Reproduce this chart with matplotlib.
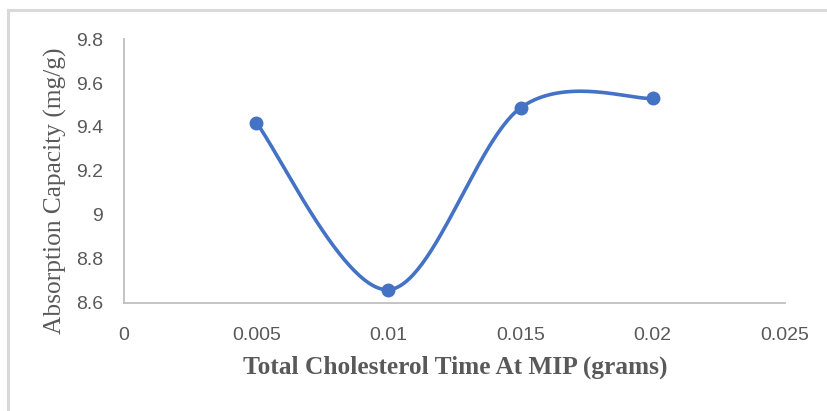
import numpy as np
import matplotlib
matplotlib.use('Agg')
import matplotlib.pyplot as plt
from matplotlib.lines import Line2D

# data
mip_grams = [0.005, 0.01, 0.015, 0.02]
capacity = [9.42, 8.66, 9.487, 9.53]
x_ticks = [0, 0.005, 0.01, 0.015, 0.02, 0.025]
x_tick_labels = ['0', '0.005', '0.01', '0.015', '0.02', '0.025']
y_ticks = [8.6, 8.8, 9.0, 9.2, 9.4, 9.6, 9.8]
y_tick_labels = ['8.6', '8.8', '9', '9.2', '9.4', '9.6', '9.8']

blue = '#4472C4'
grey_txt = '#595959'


def smooth_line(xs, ys, n=60):
    # excel style smoothed line: bezier segments with catmull-rom handles
    p = np.column_stack([xs, ys]).astype(float)
    p = np.vstack([p[0], p, p[-1]])
    out = []
    for i in range(1, len(p) - 2):
        p0, p1, p2, p3 = p[i - 1], p[i], p[i + 1], p[i + 2]
        c1 = p1 + (p2 - p0) / 6.0
        c2 = p2 - (p3 - p1) / 6.0
        t = np.linspace(0, 1, n)[:, None]
        seg = ((1 - t) ** 3) * p1 + 3 * ((1 - t) ** 2) * t * c1 \
            + 3 * (1 - t) * t ** 2 * c2 + t ** 3 * p2
        out.append(seg)
    out = np.vstack(out)
    return out[:, 0], out[:, 1]


fig = plt.figure(figsize=(8.27, 4.11), dpi=100)
ax = fig.add_axes([0.150, 0.263, 0.799, 0.642])

sx, sy = smooth_line(mip_grams, capacity)
ax.plot(sx, sy, color=blue, linewidth=2.6, solid_capstyle='round')
ax.plot(mip_grams, capacity, linestyle='none', marker='o', markersize=9,
        color=blue)

ax.set_xlim(0, 0.025)
ax.set_ylim(8.6, 9.8)
ax.set_xticks(x_ticks)
ax.set_xticklabels(x_tick_labels)
ax.set_yticks(y_ticks)
ax.set_yticklabels(y_tick_labels)

for lab in ax.get_xticklabels() + ax.get_yticklabels():
    lab.set_fontfamily('Liberation Sans')
    lab.set_fontsize(14)
    lab.set_color(grey_txt)
ax.tick_params(axis='x', length=0, pad=17)
ax.tick_params(axis='y', length=0, pad=15)

for s in ['top', 'right']:
    ax.spines[s].set_visible(False)
for s in ['left', 'bottom']:
    ax.spines[s].set_color('#bfbfbf')
    ax.spines[s].set_linewidth(1.3)

fig.text(0.0665, 0.535, 'Absorption Capacity (mg/g)', rotation=90,
         ha='center', va='center', fontsize=18.3, color=grey_txt,
         family='Liberation Serif')
fig.text(0.550, 0.107, 'Total Cholesterol Time At MIP (grams)',
         ha='center', va='center', fontsize=18.3, fontweight='bold',
         color=grey_txt, family='Liberation Serif')

# chart area border (top and left edges visible)
fig.add_artist(Line2D([8 / 827, 1.0], [1 - 10 / 411, 1 - 10 / 411],
                      transform=fig.transFigure, color='#d9d9d9', linewidth=2.2))
fig.add_artist(Line2D([8 / 827, 8 / 827], [0, 1 - 10 / 411],
                      transform=fig.transFigure, color='#d9d9d9', linewidth=2.2))

plt.savefig('out.png', dpi=100)
plt.close()
